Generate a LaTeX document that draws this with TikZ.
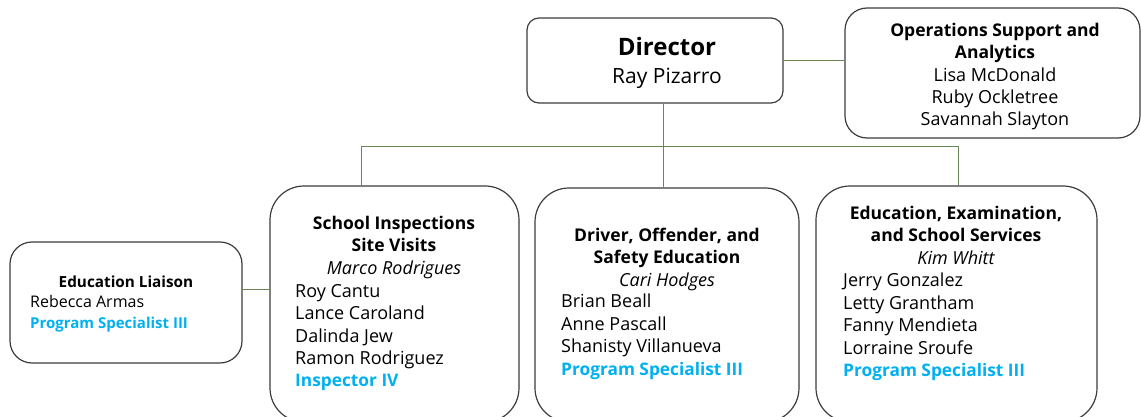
\documentclass[tikz,border=0pt]{standalone}
\usepackage{fontspec}
\setmainfont{Open Sans}
\usetikzlibrary{positioning}
\definecolor{linkgreen}{RGB}{105,135,85}
\definecolor{roleblue}{RGB}{0,176,240}
\definecolor{boxgray}{RGB}{60,60,60}

\begin{document}
\begin{tikzpicture}[x=1pt,y=-1pt,
  unit/.style={draw=boxgray,line width=1.2pt,inner sep=0pt,rounded corners=22pt},
  link/.style={draw=linkgreen,line width=1pt},
  head/.style={font=\fontsize{17.5}{22.4}\selectfont\bfseries,align=center,inner sep=0pt,anchor=north},
  staff/.style={font=\fontsize{18}{22.4}\selectfont,align=left,inner sep=0pt,anchor=north west}]

\newcommand{\rolename}[1]{\textcolor{roleblue}{\fontsize{17.3}{22.4}\selectfont\bfseries #1}}
\newcommand{\leadname}[1]{{\fontsize{18}{22.4}\selectfont\mdseries\itshape #1}}

\useasboundingbox (0,0) rectangle (1141,417);
\clip (0,0) rectangle (1141,417);

% boxes
\node[unit,rounded corners=12pt,minimum width=256,minimum height=85] (director) at (655,60.5) {};
\node[unit,minimum width=295,minimum height=130] (ops) at (992.5,73) {};
\node[unit,minimum width=232,minimum height=121] (liaison) at (126,302.5) {};
\node[unit,rounded corners=34pt,minimum width=249,minimum height=236] (school) at (394.5,304) {};
\node[unit,rounded corners=34pt,minimum width=264,minimum height=234] (driver) at (667,305) {};
\node[unit,rounded corners=34pt,minimum width=281,minimum height=236] (edu) at (956.5,304) {};

% texts
\node[head,font=\fontsize{21}{28}\selectfont] (dirtext) at (667,37)
  {{\fontsize{24}{28}\selectfont\bfseries Director}\\Ray Pizarro};
\node[head,font=\fontsize{18}{22.3}\selectfont] (opstext) at (995,23)
  {{\fontsize{17.5}{22.3}\selectfont\bfseries Operations Support and}\\{\fontsize{17.5}{22.3}\selectfont\bfseries Analytics}\\Lisa McDonald\\Ruby Ockletree\\Savannah Slayton};

\node[head,font=\fontsize{15.3}{20}\selectfont\bfseries] (liaisonhead) at (126,276) {Education Liaison};
\node[staff,font=\fontsize{16}{21.5}\selectfont] (liaisonstaff) at (30,295)
  {Rebecca Armas\\\textcolor{roleblue}{\fontsize{15}{21.5}\selectfont\bfseries Program Specialist III}};

\node[head] (schoolhead) at (394,216)
  {School Inspections\\Site Visits\\\leadname{Marco Rodrigues}};
\node[staff] (schoolstaff) at (295,284)
  {Roy Cantu\\Lance Caroland\\Dalinda Jew\\Ramon Rodriguez\\\rolename{Inspector IV}};

\node[head] (driverhead) at (667,228)
  {Driver, Offender, and\\Safety Education\\\leadname{Cari Hodges}};
\node[staff] (driverstaff) at (561,294)
  {Brian Beall\\Anne Pascall\\Shanisty Villanueva\\\rolename{Program Specialist III}};

\node[head] (eduhead) at (956,206)
  {Education, Examination,\\and School Services\\\leadname{Kim Whitt}};
\node[staff] (edustaff) at (843,273)
  {Jerry Gonzalez\\Letty Grantham\\Fanny Mendieta\\Lorraine Sroufe\\\rolename{Program Specialist III}};

% connectors
\coordinate (trunk) at (663,147);
\coordinate (busL) at (361,147);
\coordinate (busR) at (958,147);
\coordinate (side) at (242,289);

\draw[link] (director.east) -- (director.east -| ops.west);
\draw[link] (trunk |- director.south) -- (trunk |- driver.north);
\draw[link] (busL |- school.north) -- (busL) -- (busR) -- (busR |- edu.north);
\draw[link] (side) -- (side -| school.west);
\end{tikzpicture}
\end{document}
